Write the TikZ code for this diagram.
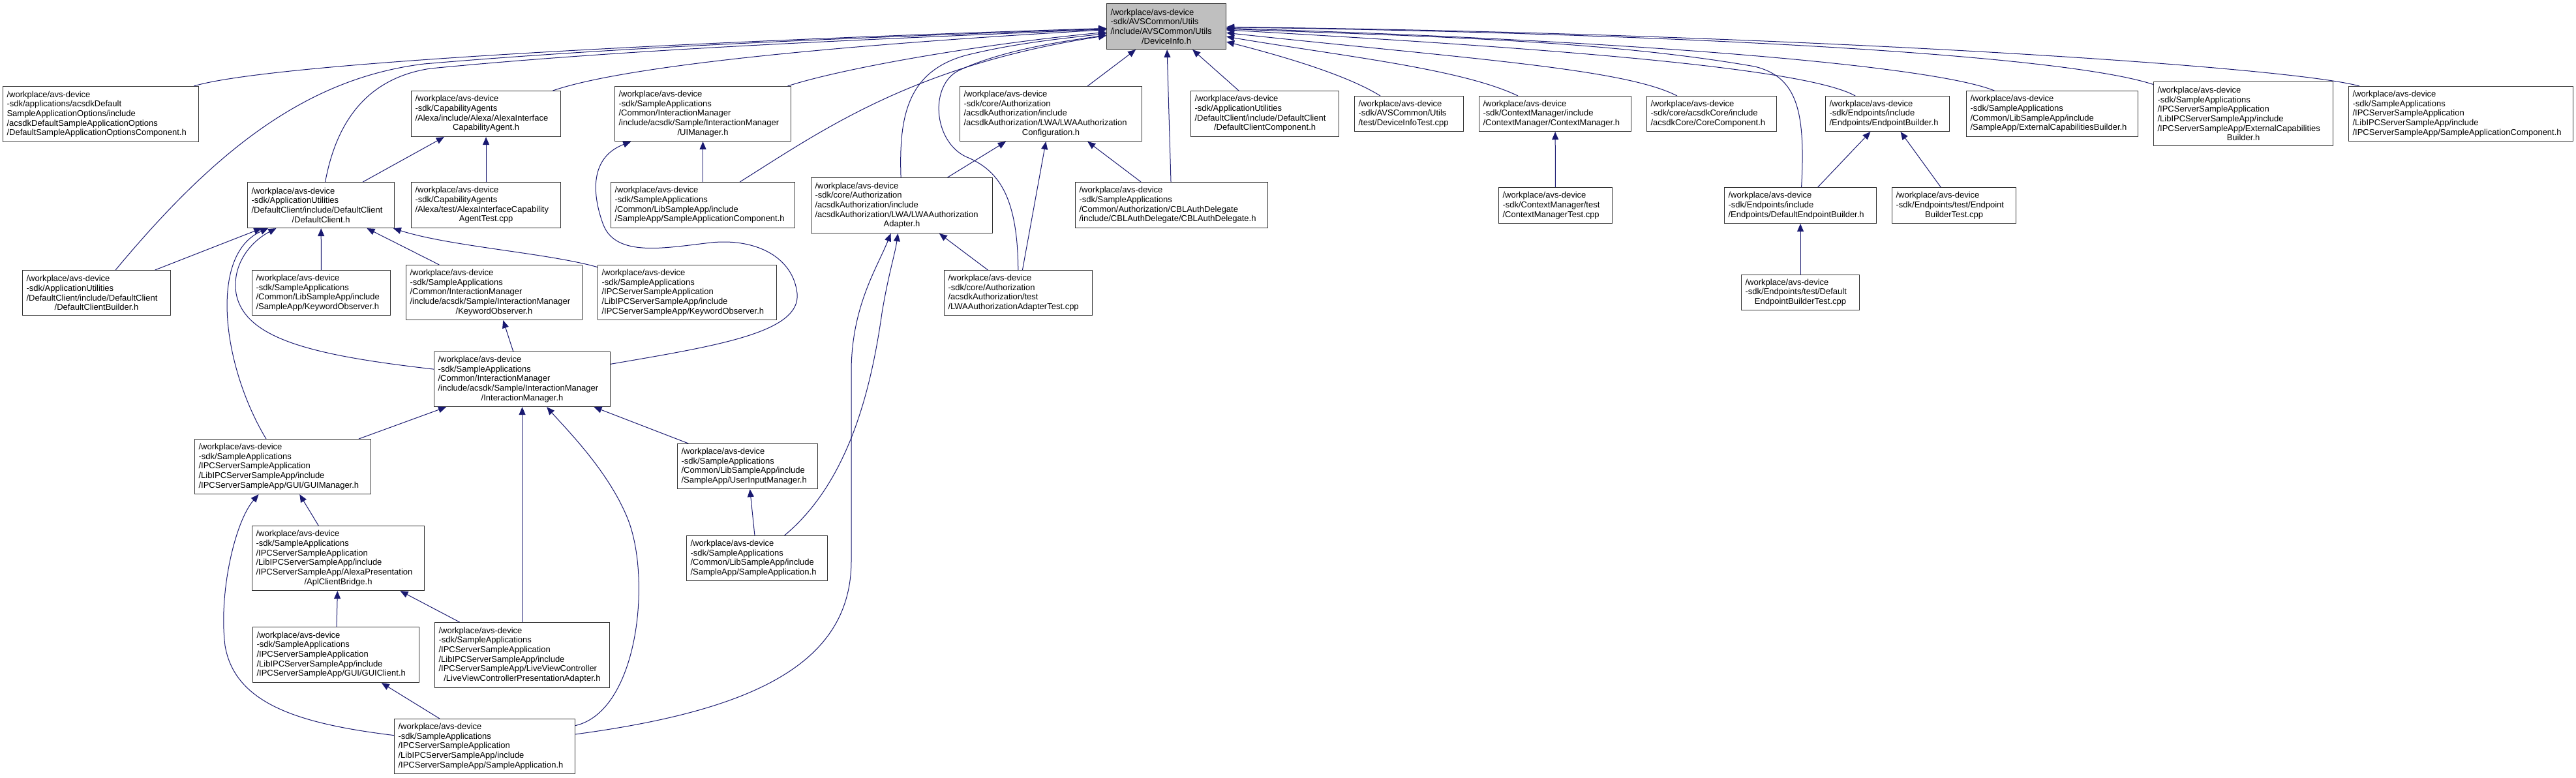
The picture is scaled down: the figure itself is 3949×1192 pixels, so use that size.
\documentclass[tikz,border=0pt]{standalone}
\usepackage{fontspec}
\setmainfont{Liberation Sans}
\usetikzlibrary{arrows.meta}
\definecolor{midnightblue}{HTML}{191970}
\newcommand{\lastline}[1]{\makebox[\hsize]{#1}}

\begin{document}
\begin{tikzpicture}[x=1pt,y=-1pt,
  file/.style={draw=black!80,line width=1.1pt,fill=white,anchor=north west,align=left,inner xsep=6pt,inner ysep=2pt,font=\fontsize{13}{14.7}\selectfont},
  dep/.style={midnightblue,line width=1pt,-{Triangle[length=12pt,width=10pt]}}]
\useasboundingbox (0,0) rectangle (3949,1192);

\node[file,fill=black!25,minimum width=183pt,minimum height=70pt,text width=171pt] (dinfo) at (1696,5) {/workplace/avs-device\\-sdk/AVSCommon/Utils\\/include/AVSCommon/Utils\\\lastline{/DeviceInfo.h}};

\node[file,minimum width=300pt,minimum height=85pt,text width=288pt] (optc) at (4,132) {/workplace/avs-device\\-sdk/applications/acsdkDefault\\SampleApplicationOptions/include\\/acsdkDefaultSampleApplicationOptions\\/DefaultSampleApplicationOptionsComponent.h};
\node[file,minimum width=229pt,minimum height=70pt,text width=217pt] (alexa) at (630,139) {/workplace/avs-device\\-sdk/CapabilityAgents\\/Alexa/include/Alexa/AlexaInterface\\\lastline{CapabilityAgent.h}};
\node[file,minimum width=270pt,minimum height=84pt,text width=258pt] (uim) at (942,132) {/workplace/avs-device\\-sdk/SampleApplications\\/Common/InteractionManager\\/include/acsdk/Sample/InteractionManager\\\lastline{/UIManager.h}};
\node[file,minimum width=279pt,minimum height=84pt,text width=267pt] (lwacfg) at (1471,132) {/workplace/avs-device\\-sdk/core/Authorization\\/acsdkAuthorization/include\\/acsdkAuthorization/LWA/LWAAuthorization\\\lastline{Configuration.h}};
\node[file,minimum width=227pt,minimum height=70pt,text width=215pt] (dccomp) at (1825,139) {/workplace/avs-device\\-sdk/ApplicationUtilities\\/DefaultClient/include/DefaultClient\\\lastline{/DefaultClientComponent.h}};
\node[file,minimum width=167pt,minimum height=54pt,text width=155pt] (ditest) at (2076,147) {/workplace/avs-device\\-sdk/AVSCommon/Utils\\/test/DeviceInfoTest.cpp};
\node[file,minimum width=233pt,minimum height=54pt,text width=221pt] (ctxm) at (2267,147) {/workplace/avs-device\\-sdk/ContextManager/include\\/ContextManager/ContextManager.h};
\node[file,minimum width=199pt,minimum height=54pt,text width=187pt] (corec) at (2524,147) {/workplace/avs-device\\-sdk/core/acsdkCore/include\\/acsdkCore/CoreComponent.h};
\node[file,minimum width=190pt,minimum height=54pt,text width=178pt] (epb) at (2798,147) {/workplace/avs-device\\-sdk/Endpoints/include\\/Endpoints/EndpointBuilder.h};
\node[file,minimum width=263pt,minimum height=70pt,text width=251pt] (extcap) at (3014,139) {/workplace/avs-device\\-sdk/SampleApplications\\/Common/LibSampleApp/include\\/SampleApp/ExternalCapabilitiesBuilder.h};
\node[file,minimum width=275pt,minimum height=98pt,text width=263pt] (ipcext) at (3301,125) {/workplace/avs-device\\-sdk/SampleApplications\\/IPCServerSampleApplication\\/LibIPCServerSampleApp/include\\/IPCServerSampleApp/ExternalCapabilities\\\lastline{Builder.h}};
\node[file,minimum width=344pt,minimum height=84pt,text width=332pt] (ipcsac) at (3600,132) {/workplace/avs-device\\-sdk/SampleApplications\\/IPCServerSampleApplication\\/LibIPCServerSampleApp/include\\/IPCServerSampleApp/SampleApplicationComponent.h};

\node[file,minimum width=225pt,minimum height=70pt,text width=213pt] (dclient) at (379,279) {/workplace/avs-device\\-sdk/ApplicationUtilities\\/DefaultClient/include/DefaultClient\\\lastline{/DefaultClient.h}};
\node[file,minimum width=229pt,minimum height=70pt,text width=217pt] (alexatest) at (630,279) {/workplace/avs-device\\-sdk/CapabilityAgents\\/Alexa/test/AlexaInterfaceCapability\\\lastline{AgentTest.cpp}};
\node[file,minimum width=282pt,minimum height=70pt,text width=270pt] (sacomp) at (936,279) {/workplace/avs-device\\-sdk/SampleApplications\\/Common/LibSampleApp/include\\/SampleApp/SampleApplicationComponent.h};
\node[file,minimum width=278pt,minimum height=85pt,text width=266pt] (lwaad) at (1243,272) {/workplace/avs-device\\-sdk/core/Authorization\\/acsdkAuthorization/include\\/acsdkAuthorization/LWA/LWAAuthorization\\\lastline{Adapter.h}};
\node[file,minimum width=295pt,minimum height=70pt,text width=283pt] (cbl) at (1648,279) {/workplace/avs-device\\-sdk/SampleApplications\\/Common/Authorization/CBLAuthDelegate\\/include/CBLAuthDelegate/CBLAuthDelegate.h};
\node[file,minimum width=174pt,minimum height=55pt,text width=162pt] (ctxtest) at (2297,287) {/workplace/avs-device\\-sdk/ContextManager/test\\/ContextManagerTest.cpp};
\node[file,minimum width=233pt,minimum height=55pt,text width=221pt] (depb) at (2643,287) {/workplace/avs-device\\-sdk/Endpoints/include\\/Endpoints/DefaultEndpointBuilder.h};
\node[file,minimum width=190pt,minimum height=55pt,text width=178pt] (epbtest) at (2900,287) {/workplace/avs-device\\-sdk/Endpoints/test/Endpoint\\\lastline{BuilderTest.cpp}};

\node[file,minimum width=227pt,minimum height=69pt,text width=215pt] (dcbuild) at (34,414) {/workplace/avs-device\\-sdk/ApplicationUtilities\\/DefaultClient/include/DefaultClient\\\lastline{/DefaultClientBuilder.h}};
\node[file,minimum width=212pt,minimum height=69pt,text width=200pt] (kwobs) at (386,414) {/workplace/avs-device\\-sdk/SampleApplications\\/Common/LibSampleApp/include\\/SampleApp/KeywordObserver.h};
\node[file,minimum width=270pt,minimum height=84pt,text width=258pt] (imkwobs) at (622,406) {/workplace/avs-device\\-sdk/SampleApplications\\/Common/InteractionManager\\/include/acsdk/Sample/InteractionManager\\\lastline{/KeywordObserver.h}};
\node[file,minimum width=274pt,minimum height=84pt,text width=262pt] (ipckwobs) at (916,406) {/workplace/avs-device\\-sdk/SampleApplications\\/IPCServerSampleApplication\\/LibIPCServerSampleApp/include\\/IPCServerSampleApp/KeywordObserver.h};
\node[file,minimum width=227pt,minimum height=69pt,text width=215pt] (lwatest) at (1447,414) {/workplace/avs-device\\-sdk/core/Authorization\\/acsdkAuthorization/test\\/LWAAuthorizationAdapterTest.cpp};
\node[file,minimum width=181pt,minimum height=54pt,text width=169pt] (depbtest) at (2669,421) {/workplace/avs-device\\-sdk/Endpoints/test/Default\\\lastline{EndpointBuilderTest.cpp}};

\node[file,minimum width=270pt,minimum height=84pt,text width=258pt] (im) at (665,539) {/workplace/avs-device\\-sdk/SampleApplications\\/Common/InteractionManager\\/include/acsdk/Sample/InteractionManager\\\lastline{/InteractionManager.h}};

\node[file,minimum width=270pt,minimum height=84pt,text width=258pt] (guim) at (298,673) {/workplace/avs-device\\-sdk/SampleApplications\\/IPCServerSampleApplication\\/LibIPCServerSampleApp/include\\/IPCServerSampleApp/GUI/GUIManager.h};
\node[file,minimum width=215pt,minimum height=69pt,text width=203pt] (uinput) at (1038,680) {/workplace/avs-device\\-sdk/SampleApplications\\/Common/LibSampleApp/include\\/SampleApp/UserInputManager.h};

\node[file,minimum width=264pt,minimum height=99pt,text width=252pt] (aplcb) at (386,806) {/workplace/avs-device\\-sdk/SampleApplications\\/IPCServerSampleApplication\\/LibIPCServerSampleApp/include\\/IPCServerSampleApp/AlexaPresentation\\\lastline{/AplClientBridge.h}};
\node[file,minimum width=216pt,minimum height=69pt,text width=204pt] (csapp) at (1052,821) {/workplace/avs-device\\-sdk/SampleApplications\\/Common/LibSampleApp/include\\/SampleApp/SampleApplication.h};

\node[file,minimum width=255pt,minimum height=85pt,text width=243pt] (guic) at (387,961) {/workplace/avs-device\\-sdk/SampleApplications\\/IPCServerSampleApplication\\/LibIPCServerSampleApp/include\\/IPCServerSampleApp/GUI/GUIClient.h};
\node[file,minimum width=268pt,minimum height=100pt,text width=256pt] (lvcpa) at (666,954) {/workplace/avs-device\\-sdk/SampleApplications\\/IPCServerSampleApplication\\/LibIPCServerSampleApp/include\\/IPCServerSampleApp/LiveViewController\\\lastline{/LiveViewControllerPresentationAdapter.h}};

\node[file,minimum width=277pt,minimum height=84pt,text width=265pt] (ipcsapp) at (604,1102) {/workplace/avs-device\\-sdk/SampleApplications\\/IPCServerSampleApplication\\/LibIPCServerSampleApp/include\\/IPCServerSampleApp/SampleApplication.h};

\draw[dep] (optc) .. controls (420,95) and (1100,62) .. (dinfo);
\draw[dep] (dcbuild) .. controls (330,230) and (470,120) .. (650,98) .. controls (1000,68) and (1400,55) .. (dinfo);
\draw[dep] (dclient) .. controls (515,190) and (560,120) .. (660,105) .. controls (1000,72) and (1400,58) .. (dinfo);
\draw[dep] (alexa) .. controls (960,100) and (1300,68) .. (dinfo);
\draw[dep] (uim) .. controls (1290,105) and (1500,68) .. (dinfo);
\draw[dep] (sacomp) .. controls (1260,200) and (1400,100) .. (dinfo);
\draw[dep] (lwaad) .. controls (1378,180) and (1390,110) .. (1480,85) .. controls (1560,65) and (1640,58) .. (dinfo);
\draw[dep] (lwatest) .. controls (1560,300) and (1530,260) .. (1480,240) .. controls (1430,215) and (1425,130) .. (1470,108) .. controls (1540,75) and (1640,62) .. (dinfo);
\draw[dep] (lwacfg) -- (dinfo);
\draw[dep] (cbl) -- (dinfo);
\draw[dep] (dccomp) -- (dinfo);
\draw[dep] (ditest) .. controls (2060,112) and (1950,82) .. (dinfo);
\draw[dep] (ctxm) .. controls (2240,105) and (2050,85) .. (dinfo);
\draw[dep] (corec) .. controls (2490,105) and (2250,90) .. (dinfo);
\draw[dep] (depb) .. controls (2768,170) and (2755,118) .. (2690,102) .. controls (2450,60) and (2150,55) .. (dinfo);
\draw[dep] (epb) .. controls (2760,100) and (2300,70) .. (dinfo);
\draw[dep] (extcap) .. controls (2960,100) and (2500,62) .. (dinfo);
\draw[dep] (ipcext) .. controls (3150,80) and (2500,50) .. (dinfo);
\draw[dep] (ipcsac) .. controls (3500,100) and (2700,50) .. (dinfo);

\draw[dep] (dclient) -- (alexa);
\draw[dep] (alexatest) -- (alexa);
\draw[dep] (sacomp) -- (uim);
\draw[dep] (im) .. controls (1100,530) and (1228,510) .. (1222,450) .. controls (1216,395) and (1160,365) .. (1090,372) .. controls (1020,380) and (945,395) .. (925,345) .. controls (910,305) and (900,243) .. (uim);
\draw[dep] (lwaad) -- (lwacfg);
\draw[dep] (lwatest) -- (lwacfg);
\draw[dep] (cbl) -- (lwacfg);
\draw[dep] (ctxtest) -- (ctxm);
\draw[dep] (depb) -- (epb);
\draw[dep] (epbtest) -- (epb);
\draw[dep] (depbtest) -- (depb);

\draw[dep] (dcbuild) -- (dclient);
\draw[dep] (guim) .. controls (340,560) and (320,390) .. (dclient);
\draw[dep] (im) .. controls (480,545) and (375,520) .. (362,450) .. controls (355,405) and (385,370) .. (dclient);
\draw[dep] (kwobs) -- (dclient);
\draw[dep] (imkwobs) -- (dclient);
\draw[dep] (ipckwobs) .. controls (840,388) and (690,378) .. (dclient);
\draw[dep] (im) -- (imkwobs);

\draw[dep] (guim) -- (im);
\draw[dep] (lvcpa) -- (im);
\draw[dep] (uinput) -- (im);
\draw[dep] (ipcsapp) .. controls (980,1090) and (1000,880) .. (960,790) .. controls (930,720) and (870,660) .. (im);
\draw[dep] (aplcb) -- (guim);
\draw[dep] (ipcsapp) .. controls (460,1110) and (360,1080) .. (345,990) .. controls (335,910) and (360,800) .. (guim);
\draw[dep] (guic) -- (aplcb);
\draw[dep] (lvcpa) -- (aplcb);
\draw[dep] (ipcsapp) -- (guic);
\draw[dep] (csapp) -- (uinput);

\draw[dep] (csapp) .. controls (1300,740) and (1335,600) .. (1352,480) .. controls (1362,420) and (1372,390) .. (lwaad);
\draw[dep] (ipcsapp) .. controls (1150,1090) and (1305,1020) .. (1305,860) -- (1305,570) .. controls (1305,470) and (1345,410) .. (lwaad);
\draw[dep] (lwatest) -- (lwaad);
\end{tikzpicture}
\end{document}
